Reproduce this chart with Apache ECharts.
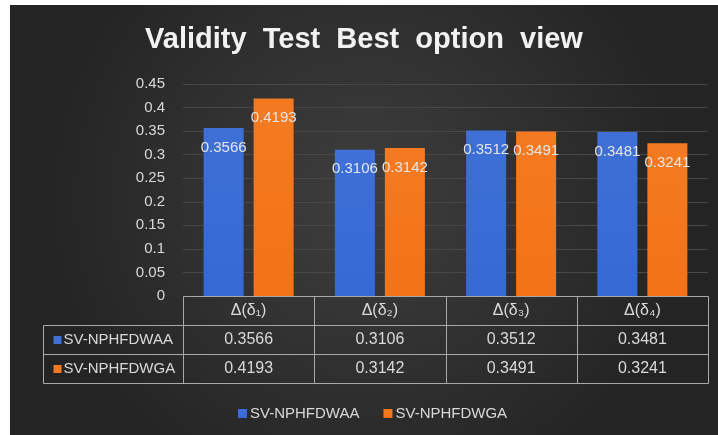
<!DOCTYPE html>
<html lang="en">
<head>
<meta charset="UTF-8">
<title>Validity Test Best option view</title>
<script src="https://cdn.jsdelivr.net/npm/echarts@6/dist/echarts.min.js"></script>
<style>
    body,
    html {
        margin: 0;
        padding: 0;
        background: #fff;
    }
    #chart {
        position: absolute;
        left: 10px;
        top: 5px;
        width: 708px;
        height: 430px;
    }
</style>
</head>
<body>
<div id="chart"></div>
<script>
    var categories = ['Δ(δ₁)', 'Δ(δ₂)', 'Δ(δ₃)', 'Δ(δ₄)'];
    var seriesNames = ['SV-NPHFDWAA', 'SV-NPHFDWGA'];
    var waaValues = [0.3566, 0.3106, 0.3512, 0.3481];
    var wgaValues = [0.4193, 0.3142, 0.3491, 0.3241];
    var yMin = 0, yMax = 0.45, yStep = 0.05;

    var colors = ['#3e70d6', '#f47a21'];
    var textColor = '#d9d9d9';
    var font = 'Liberation Sans';

    var dom = document.getElementById('chart');
    var myChart = echarts.init(dom);

    function barSeries(name, values, color) {
        return {
            name: name,
            type: 'bar',
            data: values,
            barWidth: 40,
            barGap: '25%',
            itemStyle: {
                color: new echarts.graphic.LinearGradient(0, 0, 0, 1, [
                    { offset: 0, color: color },
                    { offset: 1, color: echarts.color.modifyHSL(color, null, null, 0.52) }
                ])
            },
            label: {
                show: true,
                position: 'insideTop',
                distance: 12,
                color: '#e6e6e6',
                fontFamily: font,
                fontSize: 15
            }
        };
    }

    myChart.setOption({
        backgroundColor: new echarts.graphic.RadialGradient(0.5, 0.45, 0.75, [
            { offset: 0, color: '#3e3e3e' },
            { offset: 1, color: '#242424' }
        ]),
        title: {
            text: 'Validity  Test  Best  option  view',
            left: 'center',
            top: 20,
            padding: [0, 0, 0, 12],
            textStyle: {
                color: '#f2f2f2',
                fontFamily: font,
                fontSize: 29,
                fontWeight: 'bold'
            }
        },
        legend: {
            data: seriesNames,
            left: 223,
            top: 396,
            itemWidth: 9,
            itemHeight: 9,
            itemGap: 24,
            icon: 'rect',
            textStyle: { color: textColor, fontFamily: font, fontSize: 15, padding: [0, 0, 0, -2] }
        },
        grid: {
            left: 173,
            right: 10,
            top: 79,
            bottom: 139
        },
        xAxis: {
            type: 'category',
            data: categories,
            axisLine: { show: false },
            axisTick: { show: false },
            axisLabel: { show: false }
        },
        yAxis: {
            type: 'value',
            min: yMin,
            max: yMax,
            interval: yStep,
            axisLine: { show: false },
            axisTick: { show: false },
            axisLabel: { color: textColor, fontFamily: font, fontSize: 15, margin: 18 },
            splitLine: { lineStyle: { color: '#484848' } }
        },
        series: [
            barSeries(seriesNames[0], waaValues, colors[0]),
            barSeries(seriesNames[1], wgaValues, colors[1])
        ]
    });

    // data table under the plot, columns taken from the category axis
    function drawTable() {
        var c0 = myChart.convertToPixel({ xAxisIndex: 0 }, 0);
        var c1 = myChart.convertToPixel({ xAxisIndex: 0 }, 1);
        var band = c1 - c0;
        var colEdges = [];
        for (var i = 0; i <= categories.length; i++) {
            colEdges.push(Math.round(c0 - band / 2 + i * band) + 0.5);
        }
        var top = Math.round(myChart.convertToPixel({ yAxisIndex: 0 }, yMin)) + 0.5;
        var rowH = 28.7;
        var rowEdges = [top, Math.round(top + rowH) + 0.5, Math.round(top + 2 * rowH) + 0.5, Math.round(top + 3 * rowH) + 0.5];
        var tableLeft = 33.5;
        var right = colEdges[colEdges.length - 1];
        var lineStyle = { stroke: '#a8a8a8', lineWidth: 1 };
        var els = [];

        function line(x1, y1, x2, y2) {
            els.push({ type: 'line', shape: { x1: x1, y1: y1, x2: x2, y2: y2 }, style: lineStyle, silent: true });
        }
        function cellText(txt, x, y, align, size) {
            els.push({
                type: 'text', x: x, y: y, silent: true,
                style: { text: txt, fill: textColor, font: (size || 16) + 'px "' + font + '"', align: align || 'center', verticalAlign: 'middle' }
            });
        }

        line(colEdges[0], rowEdges[0], right, rowEdges[0]);
        for (var r = 1; r < rowEdges.length; r++) line(tableLeft, rowEdges[r], right, rowEdges[r]);
        colEdges.forEach(function (x) { line(x, rowEdges[0], x, rowEdges[3]); });
        line(tableLeft, rowEdges[1], tableLeft, rowEdges[3]);

        var rows = [waaValues, wgaValues];
        categories.forEach(function (cat, i) {
            var cx = myChart.convertToPixel({ xAxisIndex: 0 }, i);
            cellText(cat, cx, (rowEdges[0] + rowEdges[1]) / 2);
            rows.forEach(function (vals, r) {
                cellText(vals[i].toFixed(4), cx, (rowEdges[r + 1] + rowEdges[r + 2]) / 2);
            });
        });
        seriesNames.forEach(function (name, r) {
            var cy = (rowEdges[r + 1] + rowEdges[r + 2]) / 2;
            els.push({ type: 'rect', shape: { x: tableLeft + 10, y: cy - 4, width: 8, height: 8 }, style: { fill: colors[r] }, silent: true });
            cellText(name, tableLeft + 20, cy, 'left', 15);
        });

        myChart.setOption({ graphic: { elements: els } });
    }
    drawTable();
</script>
</body>
</html>
